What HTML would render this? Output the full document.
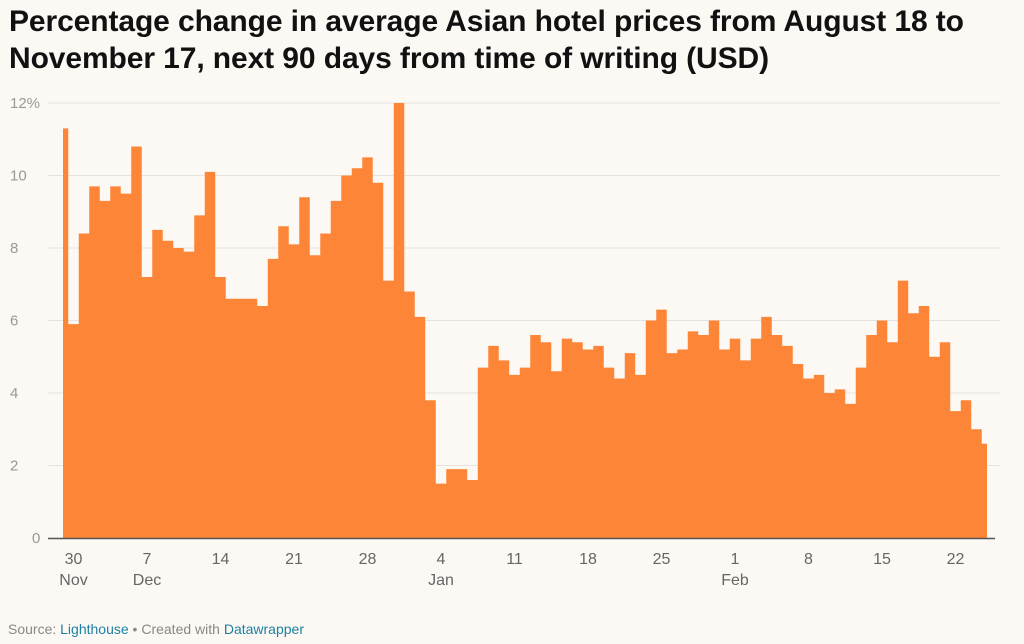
<!DOCTYPE html>
<html><head><meta charset="utf-8"><style>
html,body{margin:0;padding:0;background:#fcf9f4;}
body{width:1024px;height:644px;overflow:hidden;font-family:"Liberation Sans",sans-serif;}
h1{position:absolute;left:9px;top:3px;margin:0;font-size:30px;line-height:37px;font-weight:bold;color:#111;letter-spacing:-0.1px;white-space:nowrap;}
.src{position:absolute;left:8px;top:621px;font-size:14px;color:#888;}
.src a{color:#1d81a2;text-decoration:none;}
svg{position:absolute;left:0;top:0;}
</style></head><body>
<h1>Percentage change in average Asian hotel prices from August 18 to<br>November 17, next 90 days from time of writing (USD)</h1>
<svg id="chart" width="1024" height="644"></svg>
<div class="src">Source: <a>Lighthouse</a> • Created with <a>Datawrapper</a></div>
<script>
const values=[11.3,5.9,8.4,9.7,9.3,9.7,9.5,10.8,7.2,8.5,8.2,8.0,7.9,8.9,10.1,7.2,6.6,6.6,6.6,6.4,7.7,8.6,8.1,9.4,7.8,8.4,9.3,10.0,10.2,10.5,9.8,7.1,12.0,6.8,6.1,3.8,1.5,1.9,1.9,1.6,4.7,5.3,4.9,4.5,4.7,5.6,5.4,4.6,5.5,5.4,5.2,5.3,4.7,4.4,5.1,4.5,6.0,6.3,5.1,5.2,5.7,5.6,6.0,5.2,5.5,4.9,5.5,6.1,5.6,5.3,4.8,4.4,4.5,4.0,4.1,3.7,4.7,5.6,6.0,5.4,7.1,6.2,6.4,5.0,5.4,3.5,3.8,3.0,2.6];
const yTicks=[0,2,4,6,8,10,12];
const xTickIdx=[1,8,15,22,29,36,43,50,57,64,71,78,85];
const xTickDay=["30","7","14","21","28","4","11","18","25","1","8","15","22"];
const xTickMonth=["Nov","Dec","","","","Jan","","","","Feb","","",""];
const NS="http://www.w3.org/2000/svg";
const svg=document.getElementById('chart');
const x0=63,step=10.5,xEnd=63+step*(values.length-1);
const xs=i=>x0+step*i;
const ys=v=>538-v*(435/12);
function mk(t,a){const e=document.createElementNS(NS,t);for(const k in a)e.setAttribute(k,a[k]);svg.appendChild(e);return e;}
yTicks.forEach(v=>{
  if(v>0){const g=mk('line',{x1:48,x2:1000,y1:ys(v),y2:ys(v),stroke:'#e6e3de','stroke-width':1});
  
  }
  const t=mk('text',{x:v===0?32:10,y:ys(v)+5,'font-size':15,fill:'#999'});
  t.textContent=v===12?'12%':String(v);
  
  
});
let d='M'+x0+','+ys(0);
values.forEach((v,i)=>{
  const a=Math.max(x0,xs(i)-step/2),b=Math.min(xEnd,xs(i)+step/2);
  d+=' L'+a+','+ys(v)+' L'+b+','+ys(v);
});
d+=' L'+xEnd+','+ys(0)+' Z';
const area=mk('path',{d:d,fill:'#fd8537'});


const base=mk('line',{x1:48,x2:995,y1:538.5,y2:538.5,stroke:'#555','stroke-width':1.5});


xTickIdx.forEach((idx,k)=>{
  const t=mk('text',{x:xs(idx),y:564,'font-size':16,fill:'#666','text-anchor':'middle'});
  t.textContent=xTickDay[k];
  
  
  if(xTickMonth[k]){const m=mk('text',{x:xs(idx),y:585,'font-size':16,fill:'#666','text-anchor':'middle'});
  m.textContent=xTickMonth[k];
  
  }
});
</script>
</body></html>
